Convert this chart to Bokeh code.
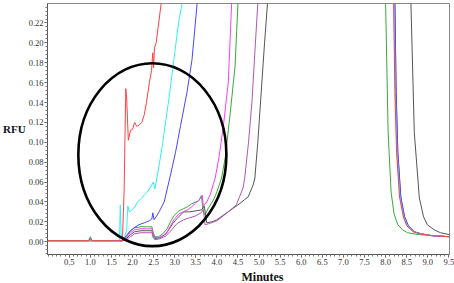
from bokeh.plotting import figure
from bokeh.models import FixedTicker, NumeralTickFormatter, Range1d, Title
from bokeh.embed import file_html
from bokeh.resources import INLINE

# ---- data (minutes, RFU) ----
red_x = [0.0, 0.95, 1.0, 1.05, 1.76, 1.80, 1.84, 1.86, 1.90, 1.95, 2.00, 2.05, 2.10, 2.15, 2.22, 2.28, 2.33, 2.40, 2.45, 2.48, 2.50, 2.52, 2.56, 2.62, 2.68, 2.72,
         8.17, 8.19, 8.22, 8.26, 8.33, 8.42, 8.50, 8.65, 8.80, 9.10, 9.52]
red_y = [0.001, 0.001, 0.002, 0.001, 0.001, 0.050, 0.154, 0.145, 0.102, 0.112, 0.113, 0.120, 0.116, 0.117, 0.120, 0.128, 0.140, 0.160, 0.172, 0.190, 0.175, 0.195, 0.200, 0.220, 0.240, 0.300,
         0.300, 0.240, 0.150, 0.090, 0.045, 0.025, 0.016, 0.010, 0.008, 0.006, 0.005]

cyan_x = [0.0, 1.0, 1.69, 1.71, 1.73, 1.76, 1.82, 1.86, 1.89, 1.92, 1.97, 2.05, 2.12, 2.20, 2.28, 2.35, 2.43, 2.49, 2.53, 2.58, 2.63, 2.70, 2.75, 2.86, 2.98, 3.10, 3.18, 3.22,
          8.18, 8.20, 8.23, 8.27, 8.34, 8.43, 8.52, 8.66, 8.82, 9.10, 9.52]
cyan_y = [0.001, 0.001, 0.001, 0.037, 0.008, 0.003, 0.006, 0.012, 0.036, 0.030, 0.031, 0.035, 0.040, 0.043, 0.047, 0.050, 0.055, 0.060, 0.053, 0.065, 0.077, 0.095, 0.110, 0.143, 0.183, 0.223, 0.240, 0.300,
          0.300, 0.240, 0.150, 0.090, 0.045, 0.025, 0.016, 0.010, 0.008, 0.006, 0.005]

blue_x = [0.0, 0.95, 1.0, 1.05, 1.76, 1.85, 1.95, 2.04, 2.15, 2.28, 2.40, 2.46, 2.48, 2.51, 2.56, 2.63, 2.75, 2.90, 3.02, 3.14, 3.29, 3.41, 3.53, 3.58,
          8.20, 8.22, 8.25, 8.29, 8.36, 8.45, 8.54, 8.68, 8.84, 9.10, 9.52]
blue_y = [0.001, 0.001, 0.003, 0.001, 0.001, 0.006, 0.011, 0.014, 0.017, 0.019, 0.021, 0.023, 0.029, 0.022, 0.025, 0.030, 0.040, 0.067, 0.090, 0.117, 0.150, 0.183, 0.239, 0.300,
          0.300, 0.240, 0.150, 0.090, 0.045, 0.025, 0.016, 0.010, 0.008, 0.006, 0.005]

magenta_x = [0.0, 1.76, 1.85, 1.95, 2.05, 2.20, 2.35, 2.46, 2.49, 2.53, 2.62, 2.72, 2.82, 2.90, 2.98, 3.10, 3.20, 3.30, 3.40, 3.50, 3.58, 3.65, 3.68, 3.76, 3.84, 3.96, 4.05, 4.15, 4.27, 4.35, 4.40,
             8.19, 8.21, 8.24, 8.28, 8.35, 8.44, 8.53, 8.67, 8.83, 9.10, 9.52]
magenta_y = [0.001, 0.001, 0.004, 0.009, 0.012, 0.013, 0.013, 0.013, 0.008, 0.004, 0.004, 0.006, 0.010, 0.016, 0.022, 0.028, 0.030, 0.032, 0.035, 0.039, 0.042, 0.047, 0.036, 0.040, 0.047, 0.064, 0.085, 0.115, 0.160, 0.240, 0.300,
             0.300, 0.240, 0.150, 0.090, 0.045, 0.025, 0.016, 0.010, 0.008, 0.006, 0.005]

green_x = [0.0, 0.96, 1.0, 1.04, 1.76, 1.85, 1.95, 2.05, 2.20, 2.35, 2.46, 2.49, 2.53, 2.62, 2.72, 2.82, 2.90, 2.98, 3.10, 3.20, 3.30, 3.40, 3.50, 3.57, 3.63, 3.68, 3.72, 3.80, 3.92, 4.00, 4.11, 4.20, 4.31, 4.43, 4.50, 4.55,
           7.97, 8.00, 8.06, 8.13, 8.20, 8.29, 8.40, 8.52, 8.80, 9.52]
green_y = [0.001, 0.001, 0.005, 0.001, 0.001, 0.005, 0.011, 0.014, 0.015, 0.015, 0.015, 0.009, 0.005, 0.005, 0.008, 0.013, 0.020, 0.026, 0.031, 0.033, 0.035, 0.038, 0.040, 0.041, 0.046, 0.030, 0.027, 0.034, 0.042, 0.050, 0.064, 0.085, 0.127, 0.176, 0.240, 0.300,
           0.300, 0.240, 0.110, 0.050, 0.028, 0.017, 0.012, 0.009, 0.007, 0.005]

purple_x = [0.0, 1.76, 1.85, 1.95, 2.05, 2.20, 2.46, 2.49, 2.53, 2.65, 2.80, 2.95, 3.05, 3.21, 3.35, 3.50, 3.62, 3.68, 3.72, 3.80, 4.00, 4.27, 4.46, 4.62, 4.66, 4.75, 4.83, 4.90, 4.97, 5.00,
            8.20, 8.22, 8.25, 8.29, 8.36, 8.45, 8.54, 8.68, 8.84, 9.10, 9.52]
purple_y = [0.001, 0.001, 0.002, 0.005, 0.008, 0.009, 0.009, 0.004, 0.002, 0.003, 0.006, 0.013, 0.018, 0.022, 0.024, 0.026, 0.029, 0.032, 0.017, 0.018, 0.021, 0.030, 0.037, 0.054, 0.064, 0.100, 0.140, 0.190, 0.240, 0.300,
            0.300, 0.240, 0.150, 0.090, 0.045, 0.025, 0.016, 0.010, 0.008, 0.006, 0.005]

black_x = [0.0, 1.76, 1.85, 1.95, 2.05, 2.20, 2.46, 2.49, 2.53, 2.65, 2.80, 2.95, 3.05, 3.21, 3.35, 3.50, 3.64, 3.70, 3.76, 3.88, 4.00, 4.23, 4.50, 4.74, 4.86, 4.90, 4.97, 5.05, 5.13, 5.20, 5.24,
           8.58, 8.60, 8.68, 8.80, 8.90, 8.99, 9.15, 9.30, 9.52]
black_y = [0.001, 0.001, 0.003, 0.007, 0.010, 0.011, 0.011, 0.006, 0.003, 0.004, 0.008, 0.018, 0.023, 0.030, 0.030, 0.031, 0.032, 0.036, 0.019, 0.020, 0.022, 0.029, 0.037, 0.045, 0.057, 0.064, 0.100, 0.150, 0.200, 0.240, 0.300,
           0.300, 0.240, 0.110, 0.044, 0.025, 0.017, 0.012, 0.009, 0.007]

x_ticks = [0.5, 1.0, 1.5, 2.0, 2.5, 3.0, 3.5, 4.0, 4.5, 5.0, 5.5, 6.0, 6.5, 7.0, 7.5, 8.0, 8.5, 9.0, 9.5]
y_ticks = [0.00, 0.02, 0.04, 0.06, 0.08, 0.10, 0.12, 0.14, 0.16, 0.18, 0.20, 0.22]

# highlight ellipse (centre, width, height in data units)
ell_x = [2.47]
ell_y = [0.0875]
ell_w = [3.51]
ell_h = [0.184]

series = [
    (green_x, green_y, "#3aa83a"),
    (black_x, black_y, "#555555"),
    (purple_x, purple_y, "#b455b4"),
    (magenta_x, magenta_y, "#ff3cff"),
    (blue_x, blue_y, "#4646ff"),
    (cyan_x, cyan_y, "#30f0f0"),
    (red_x, red_y, "#ff4040"),
]

p = figure(width=454, height=283, output_backend="svg", toolbar_location=None,
           x_range=Range1d(-0.016, 9.515), y_range=Range1d(-0.0129, 0.2396),
           min_border_left=42, min_border_right=5, min_border_top=3, min_border_bottom=26)
p.xgrid.visible = False
p.ygrid.visible = False
p.outline_line_color = "#8a8a8a"
p.outline_line_width = 1
p.background_fill_color = "white"
p.border_fill_color = "white"

for xs, ys, c in series:
    p.line(xs, ys, line_color=c, line_width=1)

p.ellipse(x=ell_x, y=ell_y, width=ell_w, height=ell_h, fill_color=None,
          line_color="black", line_width=2.6)

minor_x = [i / 10 for i in range(0, 96)]
minor_y = [i / 250 for i in range(-3, 60)]
p.xaxis.ticker = FixedTicker(ticks=x_ticks, minor_ticks=minor_x)
p.yaxis.ticker = FixedTicker(ticks=y_ticks, minor_ticks=minor_y)
p.xaxis.formatter = NumeralTickFormatter(format="0.0")
p.yaxis.formatter = NumeralTickFormatter(format="0.00")

for ax in (p.xaxis[0], p.yaxis[0]):
    ax.axis_line_color = "#555555"
    ax.major_tick_line_color = "#555555"
    ax.minor_tick_line_color = "#777777"
    ax.major_tick_in = 0
    ax.major_tick_out = 3
    ax.minor_tick_in = 0
    ax.minor_tick_out = 2
    ax.major_label_text_font = "Liberation Serif"
    ax.major_label_text_font_size = "8.5px"
    ax.major_label_text_color = "#333333"
    ax.major_label_standoff = 1

# y-axis title, horizontal, left of the tick labels
p.yaxis.axis_label = "RFU"
p.yaxis.axis_label_orientation = "horizontal"
p.yaxis.axis_label_standoff = 0
p.yaxis.axis_label_text_font = "Liberation Serif"
p.yaxis.axis_label_text_font_style = "bold"
p.yaxis.axis_label_text_font_size = "11px"
p.yaxis.axis_label_text_color = "#111111"

# x-axis title as a Title below the axis, offset to the right
p.add_layout(Title(text="Minutes", align="left", offset=194, standoff=0,
                   text_font="Liberation Serif", text_font_style="bold",
                   text_font_size="12px", text_color="#111111"), "below")

open("out.html", "w").write(file_html(p, INLINE))
